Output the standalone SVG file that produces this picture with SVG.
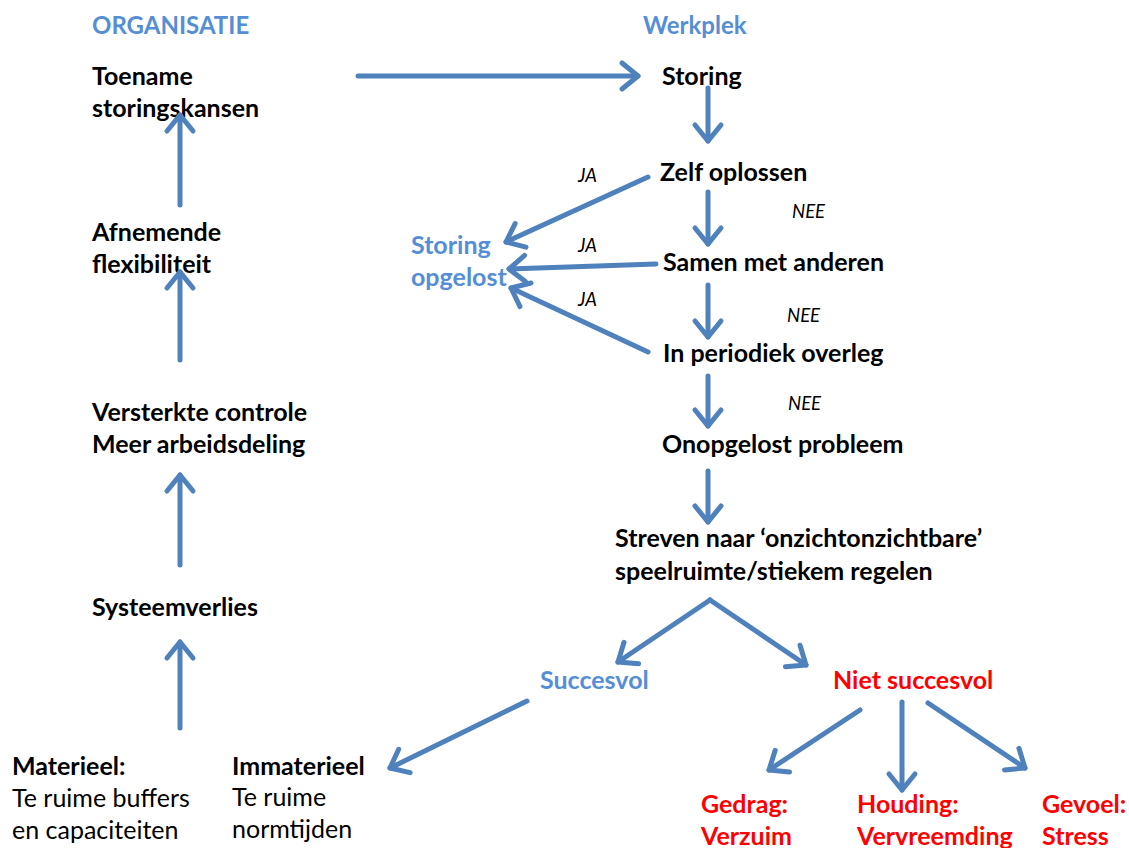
<svg xmlns="http://www.w3.org/2000/svg" width="1129" height="848" viewBox="0 0 1129 848">
<defs>
<marker id="ah" markerUnits="userSpaceOnUse" markerWidth="40" markerHeight="40" viewBox="-25 -20 30 40" refX="0" refY="0" orient="auto">
<path d="M -16 -13 L 0 0 L -16 13" fill="none" stroke="#4f81bd" stroke-width="5" stroke-linecap="round" stroke-linejoin="round"/>
</marker>
</defs>
<style>
text{font-family:Lato,"Open Sans","Liberation Sans",sans-serif;font-size:25px}
.b{font-weight:bold;fill:#000}
.r{fill:#000}
.blue{font-weight:bold;fill:#558ed5}
.hd{font-size:24px}
.red{font-weight:bold;fill:#ff0000}
.lab{font-style:italic;font-size:18.5px;fill:#000}
.c line{stroke:#4f81bd;stroke-width:5;stroke-linecap:round;marker-end:url(#ah)}
</style>
<rect width="1129" height="848" fill="#fff"/>
<g id="hdr-org"><text class="blue hd" x="92" y="34">ORGANISATIE</text></g>
<g id="hdr-werk"><text class="blue hd" x="643" y="34">Werkplek</text></g>
<g id="toename"><text class="b" x="92" y="85">Toename</text><text class="b" x="92" y="117">storingskansen</text></g>
<g id="afnemende"><text class="b" x="92" y="241">Afnemende</text><text class="b" x="92" y="273">flexibiliteit</text></g>
<g id="versterkte"><text class="b" x="92" y="421">Versterkte controle</text><text class="b" x="92" y="453">Meer arbeidsdeling</text></g>
<g id="systeem"><text class="b" x="92" y="616">Systeemverlies</text></g>
<g id="materieel"><text class="b" x="12" y="775">Materieel:</text><text class="r" x="12" y="807">Te ruime buffers</text><text class="r" x="12" y="839">en capaciteiten</text></g>
<g id="immaterieel"><text class="b" x="232" y="775">Immaterieel</text><text class="r" x="232" y="806">Te ruime</text><text class="r" x="232" y="838">normtijden</text></g>
<g id="storing"><text class="b" x="662" y="85">Storing</text></g>
<g id="zelf"><text class="b" x="660" y="181">Zelf oplossen</text></g>
<g id="samen"><text class="b" x="663" y="271">Samen met anderen</text></g>
<g id="periodiek"><text class="b" x="663" y="362">In periodiek overleg</text></g>
<g id="onopgelost"><text class="b" x="662" y="453">Onopgelost probleem</text></g>
<g id="streven"><text class="b" x="615" y="547">Streven naar ‘onzichtonzichtbare’</text><text class="b" x="615" y="580">speelruimte/stiekem regelen</text></g>
<g id="opgelost"><text class="blue" x="411" y="254">Storing</text><text class="blue" x="411" y="286">opgelost</text></g>
<g id="succesvol"><text class="blue" x="540" y="689">Succesvol</text></g>
<g id="niet"><text class="red" x="833" y="689">Niet succesvol</text></g>
<g id="gedrag"><text class="red" x="701" y="813">Gedrag:</text><text class="red" x="701" y="845">Verzuim</text></g>
<g id="houding"><text class="red" x="857" y="813">Houding:</text><text class="red" x="857" y="845">Vervreemding</text></g>
<g id="gevoel"><text class="red" x="1042" y="813">Gevoel:</text><text class="red" x="1042" y="845">Stress</text></g>
<g id="labels">
<text class="lab" x="578" y="182">JA</text>
<text class="lab" x="578" y="252">JA</text>
<text class="lab" x="578" y="306">JA</text>
<text class="lab" x="792" y="218">NEE</text>
<text class="lab" x="787" y="322">NEE</text>
<text class="lab" x="788" y="410">NEE</text>
</g>
<g id="connectors" class="c">
<line x1="358" y1="76" x2="638" y2="76"/>
<line x1="708" y1="88" x2="708" y2="141"/>
<line x1="708" y1="192" x2="708" y2="244"/>
<line x1="708" y1="285" x2="708" y2="337"/>
<line x1="708" y1="376" x2="708" y2="426"/>
<line x1="708" y1="471" x2="708" y2="522"/>
<line x1="648" y1="177" x2="506" y2="242"/>
<line x1="656" y1="264" x2="509" y2="269"/>
<line x1="648" y1="352" x2="511" y2="288"/>
<line x1="710" y1="600" x2="618" y2="662"/>
<line x1="710" y1="600" x2="806" y2="665"/>
<line x1="527" y1="701" x2="390" y2="768"/>
<line x1="860" y1="710" x2="769" y2="770"/>
<line x1="902" y1="702" x2="902" y2="790"/>
<line x1="928" y1="703" x2="1025" y2="768"/>
<line x1="180" y1="728" x2="180" y2="642"/>
<line x1="180" y1="565" x2="180" y2="475"/>
<line x1="180" y1="360" x2="180" y2="272"/>
<line x1="180" y1="205" x2="180" y2="115"/>
</g>
</svg>
